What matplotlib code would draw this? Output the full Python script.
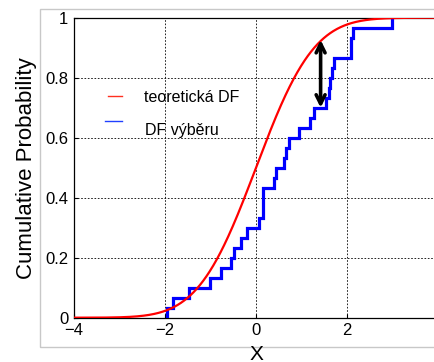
import math
import numpy as np
import matplotlib
matplotlib.use("Agg")
import matplotlib.pyplot as plt
from matplotlib.patches import Rectangle
from matplotlib.lines import Line2D

plt.rcParams['font.family'] = ['Liberation Sans', 'DejaVu Sans']

# ---- data ----
sample = [-1.95, -1.82, -1.47, -1.01, -0.78, -0.55, -0.48, -0.33, -0.19, 0.06,
          0.15, 0.15, 0.15, 0.40, 0.45, 0.62, 0.66, 0.73, 0.95, 1.19,
          1.28, 1.54, 1.60, 1.63, 1.68, 1.72, 2.09, 2.09, 2.14, 3.00]
theo_mu = 0.0
theo_sigma = 1.0
arrow_x = 1.42
arrow_y = [0.70, 0.926]
xticks = [-4, -2, 0, 2, 4]
yticks = [0, 0.2, 0.4, 0.6, 0.8, 1]
ytick_labels = ['0', '0.2', '0.4', '0.6', '0.8', '1']
legend_labels = ['teoretická DF', 'DF výběru']
xlabel = 'X'
ylabel = 'Cumulative Probability'

W, H = 435, 362
fig = plt.figure(figsize=(W / 100, H / 100), dpi=100)

# light grey frame of the original screenshot
fig.add_artist(Rectangle((40 / W, (H - 347) / H), 1.2, (347 - 9) / H,
                         transform=fig.transFigure, fill=False,
                         edgecolor='#c8c8c8', lw=1.0, zorder=0))

ax = fig.add_axes([74 / W, (H - 317.7) / H, 364 / W, 300 / H])

xs = np.sort(np.array(sample))
n = len(xs)
cum = np.arange(1, n + 1) / n
ax.step(np.r_[xs[0], xs], np.r_[0, cum], where='post', color='#0000ff',
        lw=2.3, zorder=3, solid_joinstyle='miter')

xx = np.linspace(-4, 4, 801)
yy = np.array([0.5 * (1 + math.erf((v - theo_mu) / (theo_sigma * math.sqrt(2)))) for v in xx])
ax.plot(xx, yy, color='#ff0000', lw=1.6, zorder=4)

ax.annotate('', xy=(arrow_x, arrow_y[1]), xytext=(arrow_x, arrow_y[0]),
            arrowprops=dict(arrowstyle='<->', lw=2.6, color='black',
                            mutation_scale=16, shrinkA=0, shrinkB=0),
            zorder=5)

ax.set_xlim(-4, 4)
ax.set_ylim(0, 1)
ax.set_xticks(xticks)
ax.set_yticks(yticks)
ax.set_yticklabels(ytick_labels)
ax.tick_params(direction='in', length=3, width=0.8, labelsize=12, pad=4)
ax.grid(True, color='black', linestyle=(0, (2, 2)), lw=0.6)
ax.set_axisbelow(True)
for s in ax.spines.values():
    s.set_linewidth(0.9)
    s.set_color('black')

ax.set_xlabel(xlabel, fontsize=15, labelpad=4.5)
ax.set_ylabel(ylabel, fontsize=16, labelpad=6)

# legend (no frame)
ax.add_line(Line2D([(108 - 74) / 364, (122 - 74) / 364], [(317.7 - 96) / 300] * 2,
                   transform=ax.transAxes, color='#ff3020', lw=1.0))
ax.add_line(Line2D([(105 - 74) / 364, (122 - 74) / 364], [(317.7 - 121) / 300] * 2,
                   transform=ax.transAxes, color='#2040ff', lw=1.0))
ax.text((144 - 74) / 364, (317.7 - 98) / 300, legend_labels[0], transform=ax.transAxes,
        fontsize=11.5, va='center', ha='left')
ax.text((145 - 74) / 364, (317.7 - 131) / 300, legend_labels[1], transform=ax.transAxes,
        fontsize=11.5, va='center', ha='left')

fig.savefig('out.png', dpi=100)
